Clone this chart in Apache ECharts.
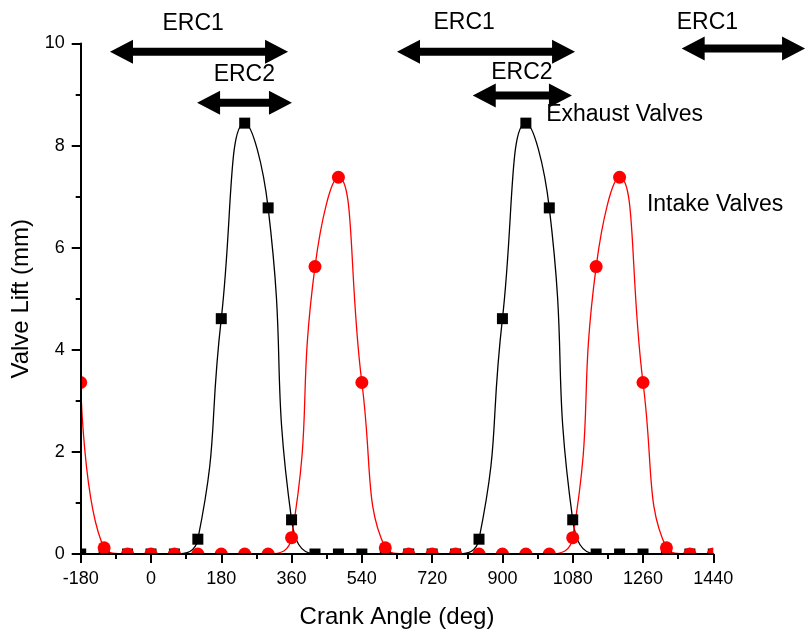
<!DOCTYPE html>
<html><head><meta charset="utf-8">
<script src="https://cdn.jsdelivr.net/npm/echarts@6/dist/echarts.min.js"></script>
<style>html,body{margin:0;padding:0;background:#fff}#c{width:809px;height:635px}</style>
</head><body><div id="c"></div>
<script>
// ---- data ----
const angles = [-180,-120,-60,0,60,120,180,240,300,360,420,480,540,600,660,720,780,840,900,960,1020,1080,1140,1200,1260,1320,1380,1440];
const exhaustLift = [0,0,0,0,0,0.29,4.61,8.44,6.78,0.67,0,0,0,0,0,0,0,0.29,4.61,8.44,6.78,0.67,0,0,0,0,0,0];
const intakeLift = [3.36,0.12,0,0,0,0,0,0,0,0.32,5.63,7.38,3.36,0.12,0,0,0,0,0,0,0,0.32,5.63,7.38,3.36,0.12,0,0];
// arrows: [startAngle, endAngle, liftLevel]
const ercArrows = [[-105,351,9.84],[118,361,8.84],[630,1086,9.84],[824,1078,8.98],[1359,1675,9.9]];
// labels: [text, angle, lift]
const ercLabels = [['ERC1',108,10.39],['ERC2',239,9.39],['ERC1',802,10.41],['ERC2',950,9.43],['ERC1',1425,10.41]];
const curveLabels = [['Exhaust Valves',1012,8.61],['Intake Valves',1270,6.84]];

const FONT = '"Liberation Sans", Arial, sans-serif';
const chart = echarts.init(document.getElementById('c'), null, {renderer:'canvas'});
const pairs = ys => angles.map((a,i)=>[a, ys[i]]);
const axisCommon = {
  type:'value', z:6, nameLocation:'middle',
  nameTextStyle:{fontFamily:FONT, fontSize:24, color:'#000'},
  axisLine:{show:true, onZero:false, lineStyle:{color:'#000', width:2}},
  axisTick:{show:true, length:9, lineStyle:{color:'#000', width:2}},
  minorTick:{show:true, splitNumber:2, length:5, lineStyle:{color:'#000', width:2}},
  splitLine:{show:false},
  axisLabel:{margin:16, fontFamily:FONT, fontSize:18, color:'#000', formatter:v=>String(v)}
};
chart.setOption({
  backgroundColor:'#fff',
  animation:false,
  grid:{left:80.7, right:95.7, top:43.5, bottom:81},
  xAxis:Object.assign({}, axisCommon, {min:-180, max:1440, interval:180, name:'Crank Angle (deg)', nameGap:51}),
  yAxis:Object.assign({}, axisCommon, {min:0, max:10, interval:2, name:'Valve Lift (mm)', nameGap:46}),
  series:[
    {name:'Exhaust Valves', type:'line', z:2, data:pairs(exhaustLift), smooth:0.5, symbol:'rect', symbolSize:11,
     lineStyle:{color:'#000', width:1.3}, itemStyle:{color:'#000'}},
    {name:'Intake Valves', type:'line', z:2, data:pairs(intakeLift), smooth:0.5, symbol:'circle', symbolSize:13,
     lineStyle:{color:'#ff0000', width:1.3}, itemStyle:{color:'#ff0000'}}
  ]
});

const P = (x,y)=>chart.convertToPixel({gridIndex:0},[x,y]);
const W = chart.getWidth(), H = chart.getHeight();
const [gx0, gyb] = P(-180,0);
const [gx1, gyt] = P(1440,10);
const g = [];
// masks to clip markers at the plot edges
g.push({type:'rect', z:4, z2:0, shape:{x:0, y:gyb, width:W, height:H-gyb}, style:{fill:'#fff'}});
g.push({type:'rect', z:4, z2:0, shape:{x:0, y:0, width:gx0, height:H}, style:{fill:'#fff'}});
g.push({type:'rect', z:4, z2:0, shape:{x:gx1, y:0, width:W-gx1, height:H}, style:{fill:'#fff'}});
const HL = 23, HH = 12, T = 4;
ercArrows.forEach(([a0,a1,lv])=>{
  const [x1,y] = P(a0,lv); const [x2] = P(a1,lv);
  g.push({type:'polygon', z:4, z2:10, shape:{points:[
    [x1,y],[x1+HL,y-HH],[x1+HL,y-T],[x2-HL,y-T],[x2-HL,y-HH],[x2,y],
    [x2-HL,y+HH],[x2-HL,y+T],[x1+HL,y+T],[x1+HL,y+HH]]}, style:{fill:'#000'}});
});
ercLabels.forEach(([t,a,lv])=>{
  const [x,y] = P(a,lv);
  g.push({type:'text', z:4, z2:10, style:{text:t, x:x, y:y, fill:'#000', font:'23px '+FONT,
    textAlign:'center', align:'center', textVerticalAlign:'middle', verticalAlign:'middle'}});
});
curveLabels.forEach(([t,a,lv])=>{
  const [x,y] = P(a,lv);
  g.push({type:'text', z:4, z2:10, style:{text:t, x:x, y:y, fill:'#000', font:'23px '+FONT,
    textAlign:'left', align:'left', textVerticalAlign:'middle', verticalAlign:'middle'}});
});
chart.setOption({graphic:{z:4, zlevel:0, elements:g}});
</script></body></html>
